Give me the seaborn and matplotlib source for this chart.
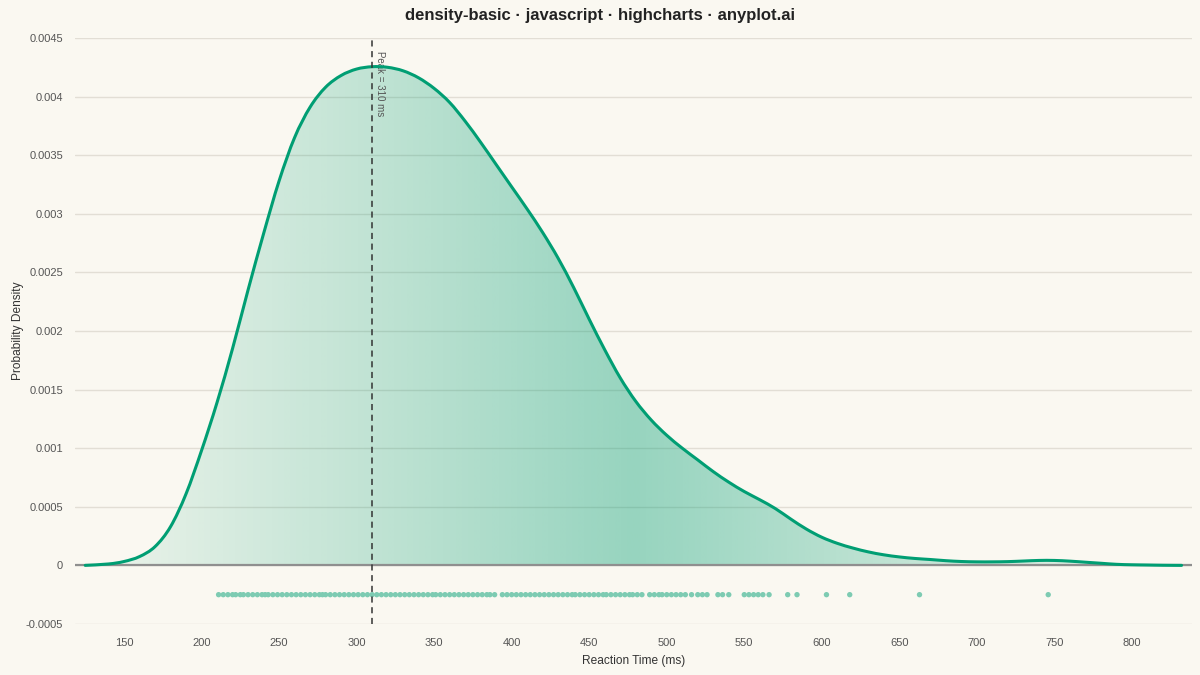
import numpy as np
import pandas as pd
import matplotlib
matplotlib.use("Agg")
import matplotlib.pyplot as plt
from matplotlib.path import Path
from matplotlib.patches import PathPatch
import seaborn as sns

# density curve (ms -> probability density)
curve_ms = [125, 140, 150, 160, 170, 180, 190, 200, 210, 220, 230, 240, 250,
            260, 270, 280, 290, 300, 310, 320, 330, 340, 350, 360, 370, 380, 390,
            400, 410, 420, 430, 440, 450, 460, 470, 480, 490, 500, 510, 520, 530,
            540, 550, 560, 570, 580, 590, 600, 610, 620, 630, 640, 650, 660, 670,
            680, 690, 700, 710, 720, 730, 740, 750, 760, 770, 780, 790, 800, 810,
            820, 832]
curve_density = [0.0, 0.000012, 0.000033, 0.000075, 0.00016, 0.00033, 0.00061,
                 0.00098, 0.00139, 0.00185, 0.00235, 0.00283, 0.00328, 0.00365, 0.00391,
                 0.00408, 0.00418, 0.004235, 0.004255, 0.00425, 0.00422, 0.00416, 0.00407,
                 0.00395, 0.00379, 0.00361, 0.00342, 0.00323, 0.00304, 0.00284, 0.00262,
                 0.00237, 0.00210, 0.00184, 0.00160, 0.00140, 0.00124, 0.00111, 0.00100,
                 0.00090, 0.00080, 0.00071, 0.00063, 0.00056, 0.000485, 0.000395, 0.00031,
                 0.00024, 0.000188, 0.000148, 0.000115, 0.00009, 0.000072, 0.000059,
                 0.00005, 0.00004, 0.000033, 0.00003, 0.00003, 0.000032, 0.000037,
                 0.000042, 0.000042, 0.000036, 0.000027, 0.000018, 0.000009, 0.000005,
                 0.000003, 0.000001, 0.0]

# individual observations shown as rug
rug_ms = [211, 214, 217, 220, 222, 225, 227, 230, 233, 236, 239, 241,
          243, 246, 249, 252, 255, 258, 261, 264, 267, 270, 273, 276, 278,
          280, 283, 286, 289, 292, 295, 298, 301, 304, 307, 310, 313, 316, 319,
          322, 325, 328, 331, 334, 337, 340, 343, 346, 349, 351, 354, 357,
          360, 363, 366, 369, 372, 375, 378, 381, 384, 386, 389,
          394, 397, 400, 403, 406, 409, 412, 415, 418, 421, 424, 427, 430, 433,
          436, 439, 441, 444, 447, 450, 453, 456, 459, 461, 464, 467, 470, 473,
          476, 478, 481, 484, 489, 492, 495, 497, 500, 503, 506, 509, 512,
          516, 520, 523, 526, 533, 536, 540, 550, 553, 556, 559, 562, 566,
          578, 584, 603, 618, 663, 746]
rug_level = -0.00025
peak_ms = 310

x_ticks = [150, 200, 250, 300, 350, 400, 450, 500, 550, 600, 650, 700, 750, 800]
y_ticks = [-0.0005, 0, 0.0005, 0.001, 0.0015, 0.002, 0.0025, 0.003, 0.0035, 0.004, 0.0045]

GREEN = "#009E73"
RUG = "#7DCBB2"
BG = "#FAF8F1"

sns.set_theme(style="white")
plt.rcParams["font.family"] = ["Liberation Sans", "DejaVu Sans"]

fig = plt.figure(figsize=(12, 6.75), dpi=100, facecolor=BG)
ax = fig.add_axes([0.0625, 0.0756, 0.9308, 0.8681])
ax.set_facecolor(BG)

curve = pd.DataFrame({"ms": curve_ms, "density": curve_density})
rug = pd.DataFrame({"ms": rug_ms, "y": [rug_level] * len(rug_ms)})

# spline through the read points (like a highcharts areaspline)
pts = curve[["ms", "density"]].to_numpy(dtype=float)
n = len(pts)
verts = [pts[0]]
codes = [Path.MOVETO]
for i in range(n - 1):
    p0, p1 = pts[max(i - 1, 0)], pts[i]
    p2, p3 = pts[i + 1], pts[min(i + 2, n - 1)]
    verts += [p1 + (p2 - p0) / 6, p2 - (p3 - p1) / 6, p2]
    codes += [Path.CURVE4] * 3
line_path = Path(verts, codes)
area_path = Path(verts + [(pts[-1][0], 0), (pts[0][0], 0), (pts[0][0], 0)],
                 codes + [Path.LINETO, Path.LINETO, Path.CLOSEPOLY])

# gradient fill under the curve
steps = 400
f = np.linspace(0, 1, steps)
alpha = 0.05 + 0.35 * (1 - np.abs(2 * f - 1))
rgba = np.zeros((1, steps, 4))
rgba[..., :3] = matplotlib.colors.to_rgb(GREEN)
rgba[0, :, 3] = alpha
img = ax.imshow(rgba, extent=[curve_ms[0], curve_ms[-1], 0, max(curve_density) * 1.02],
                aspect="auto", origin="lower", zorder=1, interpolation="bilinear")
img.set_clip_path(area_path, transform=ax.transData)

ax.add_patch(PathPatch(line_path, fill=False, edgecolor=GREEN, lw=2.2, zorder=4,
                       capstyle="round", joinstyle="round"))
sns.scatterplot(data=rug, x="ms", y="y", color=RUG, s=15, edgecolor="none",
                ax=ax, zorder=3)

ax.axhline(0, color="#8f8f8f", lw=1.6, zorder=2)
ax.axvline(peak_ms, color="#333333", lw=1.1, ls=(0, (4, 3)), zorder=5)
ax.annotate(f"Peak = {peak_ms} ms", xy=(peak_ms, 0.0045), xytext=(2, -9),
            textcoords="offset points", rotation=-90, ha="left", va="top",
            fontsize=7, color="#555555")

ax.set_xlim(118.4, 838.7)
ax.set_ylim(-0.0005, 0.0045)
ax.set_xticks(x_ticks)
ax.set_yticks(y_ticks)
ax.set_yticklabels([f"{v:g}" for v in y_ticks])
ax.tick_params(axis="both", length=0, labelsize=8, colors="#555555")
ax.tick_params(axis="x", pad=10)
ax.tick_params(axis="y", pad=8.5)
ax.grid(axis="y", color="#E2DED5", lw=1)
ax.grid(axis="x", visible=False)
ax.set_axisbelow(True)
for s in ax.spines.values():
    s.set_visible(False)

ax.set_xlabel("Reaction Time (ms)", fontsize=8.6, color="#333333", labelpad=5)
ax.set_ylabel("Probability Density", fontsize=8.6, color="#333333")
ax.yaxis.set_label_coords(-0.046, 0.5)
fig.suptitle("density-basic · javascript · highcharts · anyplot.ai", fontsize=12,
             fontweight="bold", color="#222222", y=0.988, va="top")

fig.savefig("out.png", dpi=100, facecolor=BG)
